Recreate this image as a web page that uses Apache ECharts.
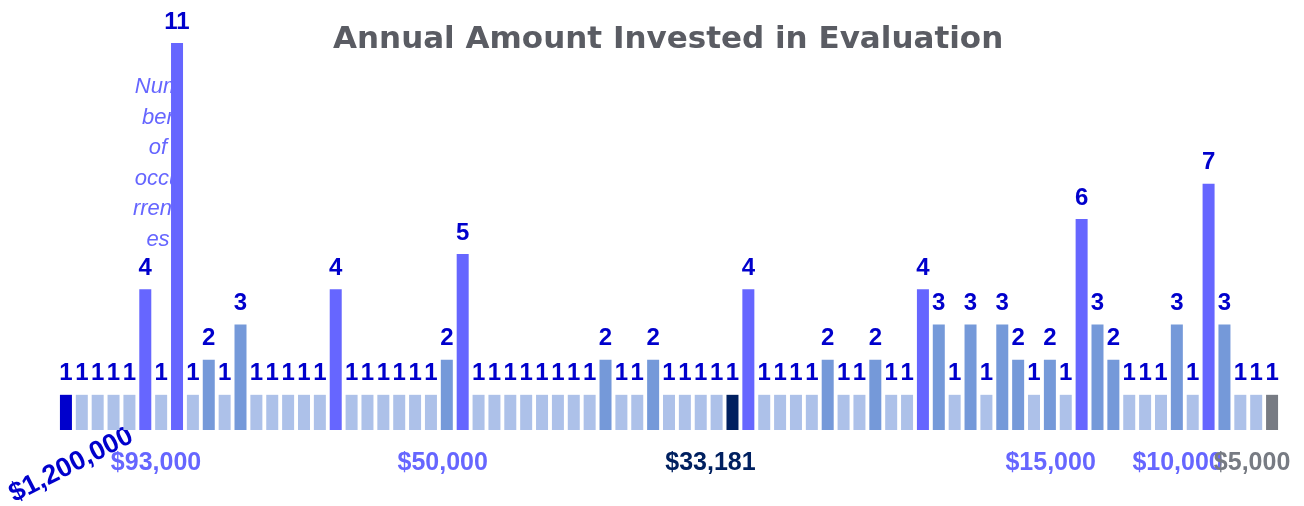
<!DOCTYPE html>
<html>
<head>
<meta charset="utf-8">
<title>Annual Amount Invested in Evaluation</title>
<script src="https://cdn.jsdelivr.net/npm/echarts@6/dist/echarts.min.js"></script>
<style>
  html, body { margin: 0; padding: 0; background: #ffffff; }
  #chart { width: 1304px; height: 506px; }
</style>
</head>
<body>
<div id="chart"></div>
<script>
// number of occurrences for each invested amount, largest amount first
const counts = [
  1, 1, 1, 1, 1, 4, 1, 11, 1, 2, 1, 3, 1, 1, 1, 1, 1, 4, 1, 1,
  1, 1, 1, 1, 2, 5, 1, 1, 1, 1, 1, 1, 1, 1, 2, 1, 1, 2, 1, 1,
  1, 1, 1, 4, 1, 1, 1, 1, 2, 1, 1, 2, 1, 1, 4, 3, 1, 3, 1, 3,
  2, 1, 2, 1, 6, 3, 2, 1, 1, 1, 3, 1, 7, 3, 1, 1, 1
];
// only some amounts get a label under the bars
const labelIndex = [0, 7, 25, 42, 64, 72, 76];
const labelText = ['$1,200,000', '$93,000', '$50,000', '$33,181', '$15,000', '$10,000', '$5,000'];

const categories = counts.map(() => '');
labelIndex.forEach((idx, k) => { categories[idx] = labelText[k]; });

// colours
const C_MAX = '#0000cc';     // highest amount
const C_MEDIAN = '#002060';  // $33,181
const C_MIN = '#777b83';     // lowest amount
const C_ONE = '#adc1e9';
const C_FEW = '#7599d9';
const C_MANY = '#6666ff';
const FONT = '"Liberation Sans", Arial, sans-serif';

function barColor(i, v) {
  if (i === 0) return C_MAX;
  if (i === 42) return C_MEDIAN;
  if (i === counts.length - 1) return C_MIN;
  if (v >= 4) return C_MANY;
  if (v >= 2) return C_FEW;
  return C_ONE;
}

// per label colour and a small left shift like in the original
const labelStyle = {
  7:  { color: C_MANY, padding: [0, 42, 0, 0] },
  25: { color: C_MANY, padding: [0, 40, 0, 0] },
  42: { color: C_MEDIAN, padding: [0, 44, 0, 0] },
  64: { color: C_MANY, padding: [0, 62, 0, 0] },
  72: { color: C_MANY, padding: [0, 62, 6, 0] },
  76: { color: C_MIN, padding: [0, 40, 4, 0] }
};
const rich = {};
Object.keys(labelStyle).forEach(k => {
  rich['s' + k] = Object.assign({
    fontFamily: FONT, fontWeight: 'bold', fontSize: 25
  }, labelStyle[k]);
});

const chart = echarts.init(document.getElementById('chart'));

const option = {
  animation: false,
  title: {
    text: 'Annual Amount Invested in Evaluation',
    left: 333,
    top: 24,
    padding: 0,
    textStyle: {
      fontFamily: '"DejaVu Sans", sans-serif',
      fontWeight: 'bold',
      fontSize: 31,
      color: '#5a5c63'
    }
  },
  grid: { left: 58, right: 24, top: 43, bottom: 76, outerBoundsMode: 'none' },
  xAxis: [
    {
      type: 'category',
      data: categories,
      axisLine: { show: false },
      axisTick: { show: false },
      axisLabel: {
        interval: 0,
        margin: 21,
        formatter: (value, index) => (value && index !== 0) ? '{s' + index + '|' + value + '}' : '',
        rich: rich
      }
    },
    {
      // second axis only for the rotated top amount
      type: 'category',
      position: 'bottom',
      data: categories,
      axisLine: { show: false },
      axisTick: { show: false },
      axisLabel: {
        interval: 0,
        rotate: 27,
        margin: 38,
        align: 'center',
        verticalAlign: 'middle',
        padding: [0, 0, 0, 12],
        color: C_MAX,
        fontFamily: FONT,
        fontWeight: 'bold',
        fontSize: 27,
        formatter: (value, index) => index === 0 ? value : ''
      }
    }
  ],
  yAxis: {
    type: 'value',
    min: 0,
    max: 11,
    axisLine: { show: false },
    axisTick: { show: false },
    axisLabel: { show: false },
    splitLine: { show: false }
  },
  graphic: [
    {
      type: 'text',
      z: 0,
      x: 158,
      y: 72,
      style: {
        text: 'Num\nber\nof\noccu\nrrenc\nes',
        align: 'center',
        verticalAlign: 'top',
        fill: C_MANY,
        fontFamily: FONT,
        fontStyle: 'italic',
        fontSize: 22,
        lineHeight: 30.5
      }
    }
  ],
  series: [
    {
      type: 'bar',
      z: 3,
      barWidth: 12,
      data: counts.map((v, i) => {
        const item = { value: v, itemStyle: { color: barColor(i, v) } };
        if (i === 7) {
          item.itemStyle.borderColor = C_MANY;
          item.itemStyle.borderWidth = 3;
        }
        return item;
      }),
      label: {
        show: true,
        position: 'top',
        distance: 9,
        color: C_MAX,
        fontFamily: FONT,
        fontWeight: 'bold',
        fontSize: 24
      }
    }
  ]
};

chart.setOption(option);
</script>
</body>
</html>
